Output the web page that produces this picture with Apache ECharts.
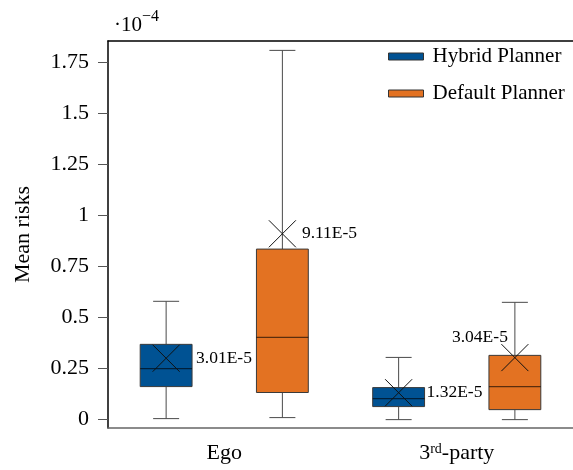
<!DOCTYPE html>
<html>
<head>
<meta charset="utf-8">
<title>Mean risks</title>
<script src="https://cdn.jsdelivr.net/npm/echarts@6/dist/echarts.min.js"></script>
<style>
  html,body{margin:0;padding:0;background:#fff}
  #main{width:573px;height:470px}
</style>
</head>
<body>
<div id="main"></div>
<script>
// values are in units of 1e-4
var categories = ['Ego', '3rd-party'];
var planners = ['Hybrid Planner', 'Default Planner'];
// [min, Q1, median, Q3, max]
var hybridBox = [[0.005, 0.162, 0.25, 0.369, 0.58], [0.0, 0.064, 0.103, 0.157, 0.305]];
var defaultBox = [[0.01, 0.133, 0.403, 0.836, 1.81], [0.0, 0.049, 0.162, 0.315, 0.575]];
var hybridMean = [0.301, 0.132];
var defaultMean = [0.911, 0.304];
var yTicks = [0, 0.25, 0.5, 0.75, 1, 1.25, 1.5, 1.75];

var serif = '"Liberation Serif", "DejaVu Serif", serif';
var colors = ['#005293', '#E37222'];

function rows(boxes, means) {
  return boxes.map(function (b, i) { return [i].concat(b, [means[i]]); });
}

// where the mean label goes for each planner / category
var labelPlace = [
  [{ from: 'box', dx: 4, dy: 0, align: 'left' }, { from: 'box', dx: 2, dy: 0, align: 'left' }],
  [{ from: 'cross', dx: 6, dy: 0, align: 'left' }, { from: 'center', dx: -7, dy: -20, align: 'right' }]
];

function makeRender(sIdx) {
  var offset = sIdx === 0 ? -0.25 : 0.25;
  return function (params, api) {
    var cat = api.value(0);
    var band = api.size([1, 0])[0];
    var cx = api.coord([cat, 0])[0] + offset * band;
    var bw = band * 0.223;
    var cap = 13;
    var xs = 13.5;
    function Y(i) { return api.coord([cat, api.value(i)])[1]; }
    var yMin = Y(1), yQ1 = Y(2), yMed = Y(3), yQ3 = Y(4), yMax = Y(5), yMean = Y(6);
    var wStyle = { stroke: '#4a4a4a', lineWidth: 1 };
    var lp = labelPlace[sIdx][cat];
    var lx = lp.from === 'box' ? cx + bw / 2 + lp.dx : lp.from === 'cross' ? cx + xs + lp.dx : cx + lp.dx;
    var txt = (api.value(6) * 1e-4).toExponential(2).toUpperCase();
    return {
      type: 'group',
      children: [
        { type: 'line', shape: { x1: cx, y1: yMax, x2: cx, y2: yQ3 }, style: wStyle },
        { type: 'line', shape: { x1: cx, y1: yQ1, x2: cx, y2: yMin }, style: wStyle },
        { type: 'line', shape: { x1: cx - cap, y1: yMax, x2: cx + cap, y2: yMax }, style: wStyle },
        { type: 'line', shape: { x1: cx - cap, y1: yMin, x2: cx + cap, y2: yMin }, style: wStyle },
        { type: 'rect', shape: { x: cx - bw / 2, y: yQ3, width: bw, height: yQ1 - yQ3 },
          style: { fill: api.visual('color'), stroke: '#3a3a3a', lineWidth: 1 } },
        { type: 'line', shape: { x1: cx - bw / 2, y1: yMed, x2: cx + bw / 2, y2: yMed },
          style: { stroke: 'rgba(0,0,0,0.6)', lineWidth: 1.2 } },
        { type: 'line', shape: { x1: cx - xs, y1: yMean - xs, x2: cx + xs, y2: yMean + xs },
          style: { stroke: '#111', lineWidth: 1 } },
        { type: 'line', shape: { x1: cx - xs, y1: yMean + xs, x2: cx + xs, y2: yMean - xs },
          style: { stroke: '#111', lineWidth: 1 } },
        { type: 'text', x: lx, y: yMean + lp.dy,
          style: { text: txt, fill: '#000', font: '17.5px ' + serif, align: lp.align, verticalAlign: 'middle' } }
      ]
    };
  };
}

var chart = echarts.init(document.getElementById('main'));
chart.setOption({
  animation: false,
  title: {
    text: '{a|·10}{b|−4}',
    left: 114, top: 9, padding: 0,
    textStyle: {
      rich: {
        a: { fontFamily: serif, fontSize: 21, fontWeight: 'normal', color: '#000', lineHeight: 26, padding: [6, 0, 0, 0] },
        b: { fontFamily: serif, fontSize: 16, fontWeight: 'normal', color: '#000', verticalAlign: 'top', lineHeight: 16 }
      }
    }
  },
  legend: {
    data: planners,
    orient: 'vertical',
    left: 388, top: 46, padding: 0,
    itemWidth: 35, itemHeight: 7, itemGap: 16,
    icon: 'rect',
    itemStyle: { borderColor: '#333', borderWidth: 1 },
    textStyle: { fontFamily: serif, fontSize: 21, color: '#000', padding: [0, 0, 0, 4] }
  },
  grid: { left: 108, top: 41, right: 0, bottom: 42, containLabel: false },
  xAxis: [{
    type: 'category',
    data: categories,
    position: 'bottom',
    axisLine: { onZero: false, lineStyle: { color: '#666', width: 1.5 } },
    axisTick: { alignWithLabel: true, length: 9, lineStyle: { color: '#666' } },
    axisLabel: {
      margin: 14, color: '#000', fontFamily: serif, fontSize: 22,
      formatter: function (v) { return v === '3rd-party' ? '3{sup|rd}-party' : v; },
      rich: { sup: { fontFamily: serif, fontSize: 14, verticalAlign: 'top', lineHeight: 14, color: '#000' } }
    }
  }, {
    type: 'category',
    data: categories,
    position: 'top',
    axisLine: { onZero: false, lineStyle: { color: '#000', width: 1.5 } },
    axisTick: { show: false },
    axisLabel: { show: false }
  }],
  yAxis: {
    type: 'value',
    min: -0.041, max: 1.856,
    name: 'Mean risks',
    nameLocation: 'middle',
    nameGap: 74,
    nameTextStyle: { fontFamily: serif, fontSize: 22, color: '#000' },
    splitLine: { show: false },
    axisLine: { show: true, onZero: false, lineStyle: { color: '#000', width: 1.5 } },
    axisTick: { show: true, length: 10, customValues: yTicks, lineStyle: { color: '#555' } },
    axisLabel: {
      margin: 19, color: '#000', fontFamily: serif, fontSize: 22,
      customValues: yTicks,
      formatter: function (v) { return String(v); }
    }
  },
  series: [{
    name: planners[0],
    type: 'custom',
    itemStyle: { color: colors[0] },
    encode: { x: 0, y: [1, 2, 3, 4, 5, 6] },
    renderItem: makeRender(0),
    data: rows(hybridBox, hybridMean)
  }, {
    name: planners[1],
    type: 'custom',
    itemStyle: { color: colors[1] },
    encode: { x: 0, y: [1, 2, 3, 4, 5, 6] },
    renderItem: makeRender(1),
    data: rows(defaultBox, defaultMean)
  }]
});
</script>
</body>
</html>
